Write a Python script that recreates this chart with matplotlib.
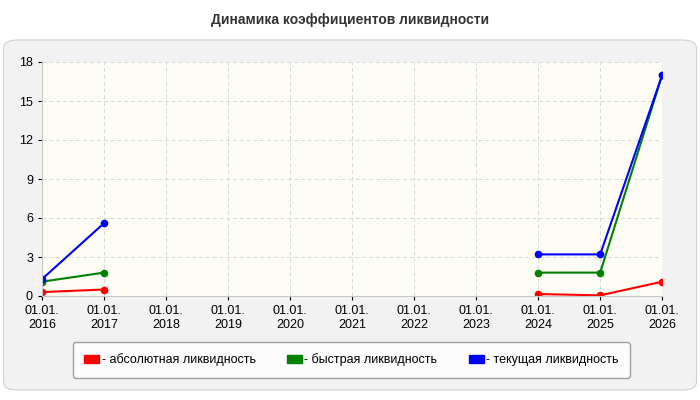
import matplotlib
matplotlib.use("Agg")
import matplotlib.pyplot as plt
import numpy as np
from matplotlib.patches import FancyBboxPatch

plt.rcParams['font.family'] = ['Liberation Sans', 'DejaVu Sans']

years = list(range(2016, 2027))
labels = [f"01.01.\n{y}" for y in years]
absolute = [0.3, 0.5, None, None, None, None, None, None, 0.15, 0.05, 1.1]
quick = [1.1, 1.8, None, None, None, None, None, None, 1.8, 1.8, 17.0]
current = [1.3, 5.6, None, None, None, None, None, None, 3.2, 3.2, 17.0]

series = [("- абсолютная ликвидность", absolute, "#ff0000"),
          ("- быстрая ликвидность", quick, "#008000"),
          ("- текущая ликвидность", current, "#0000ff")]

fig = plt.figure(figsize=(7, 4), dpi=100)
fig.patch.set_facecolor("white")
bg = FancyBboxPatch((0.005, 0.025), 0.99, 0.875, boxstyle="round,pad=0,rounding_size=0.02",
                    transform=fig.transFigure, facecolor="#f2f2f2", edgecolor="#d0d0d0", lw=0.8,
                    zorder=-10)
fig.patches.append(bg)
fig.text(0.5, 0.95, "Динамика коэффициентов ликвидности", ha="center", va="center",
         fontsize=10, fontweight="bold", color="#333333")

ax = fig.add_axes([0.06, 0.26, 0.886, 0.585], zorder=5)
ax.set_facecolor("#fdfdf6")
x = np.arange(len(years))
for name, vals, c in series:
    v = np.array([np.nan if a is None else a for a in vals], dtype=float)
    ax.plot(x, v, color=c, lw=1.5, marker="o", ms=4.5, label=name)
ax.set_xlim(0, len(years) - 1)
ax.set_ylim(0, 18)
ax.set_yticks(range(0, 19, 3))
ax.set_xticks(x)
ax.set_xticklabels(labels)
ax.tick_params(labelsize=9, colors="#000000", length=3)
ax.grid(True, color="#d8d8d8", ls=(0, (4, 3)), lw=0.7)
for s in ax.spines.values():
    s.set_color("#c8c8c8")
ax.spines["top"].set_visible(False)
ax.spines["right"].set_visible(False)

handles = [plt.Rectangle((0, 0), 1, 1, color=c) for _, _, c in series]
leg = fig.legend(handles, [n for n, _, _ in series], loc="center", bbox_to_anchor=(0.502, 0.10),
                 ncol=3, fontsize=9, frameon=True, handlelength=1.2, handleheight=0.6,
                 handletextpad=0.2, columnspacing=2.5, borderpad=0.9, fancybox=True)
leg.get_frame().set_edgecolor("#888888")
leg.get_frame().set_facecolor("white")
leg.set_zorder(6)
fig.savefig("out.png", dpi=100)
